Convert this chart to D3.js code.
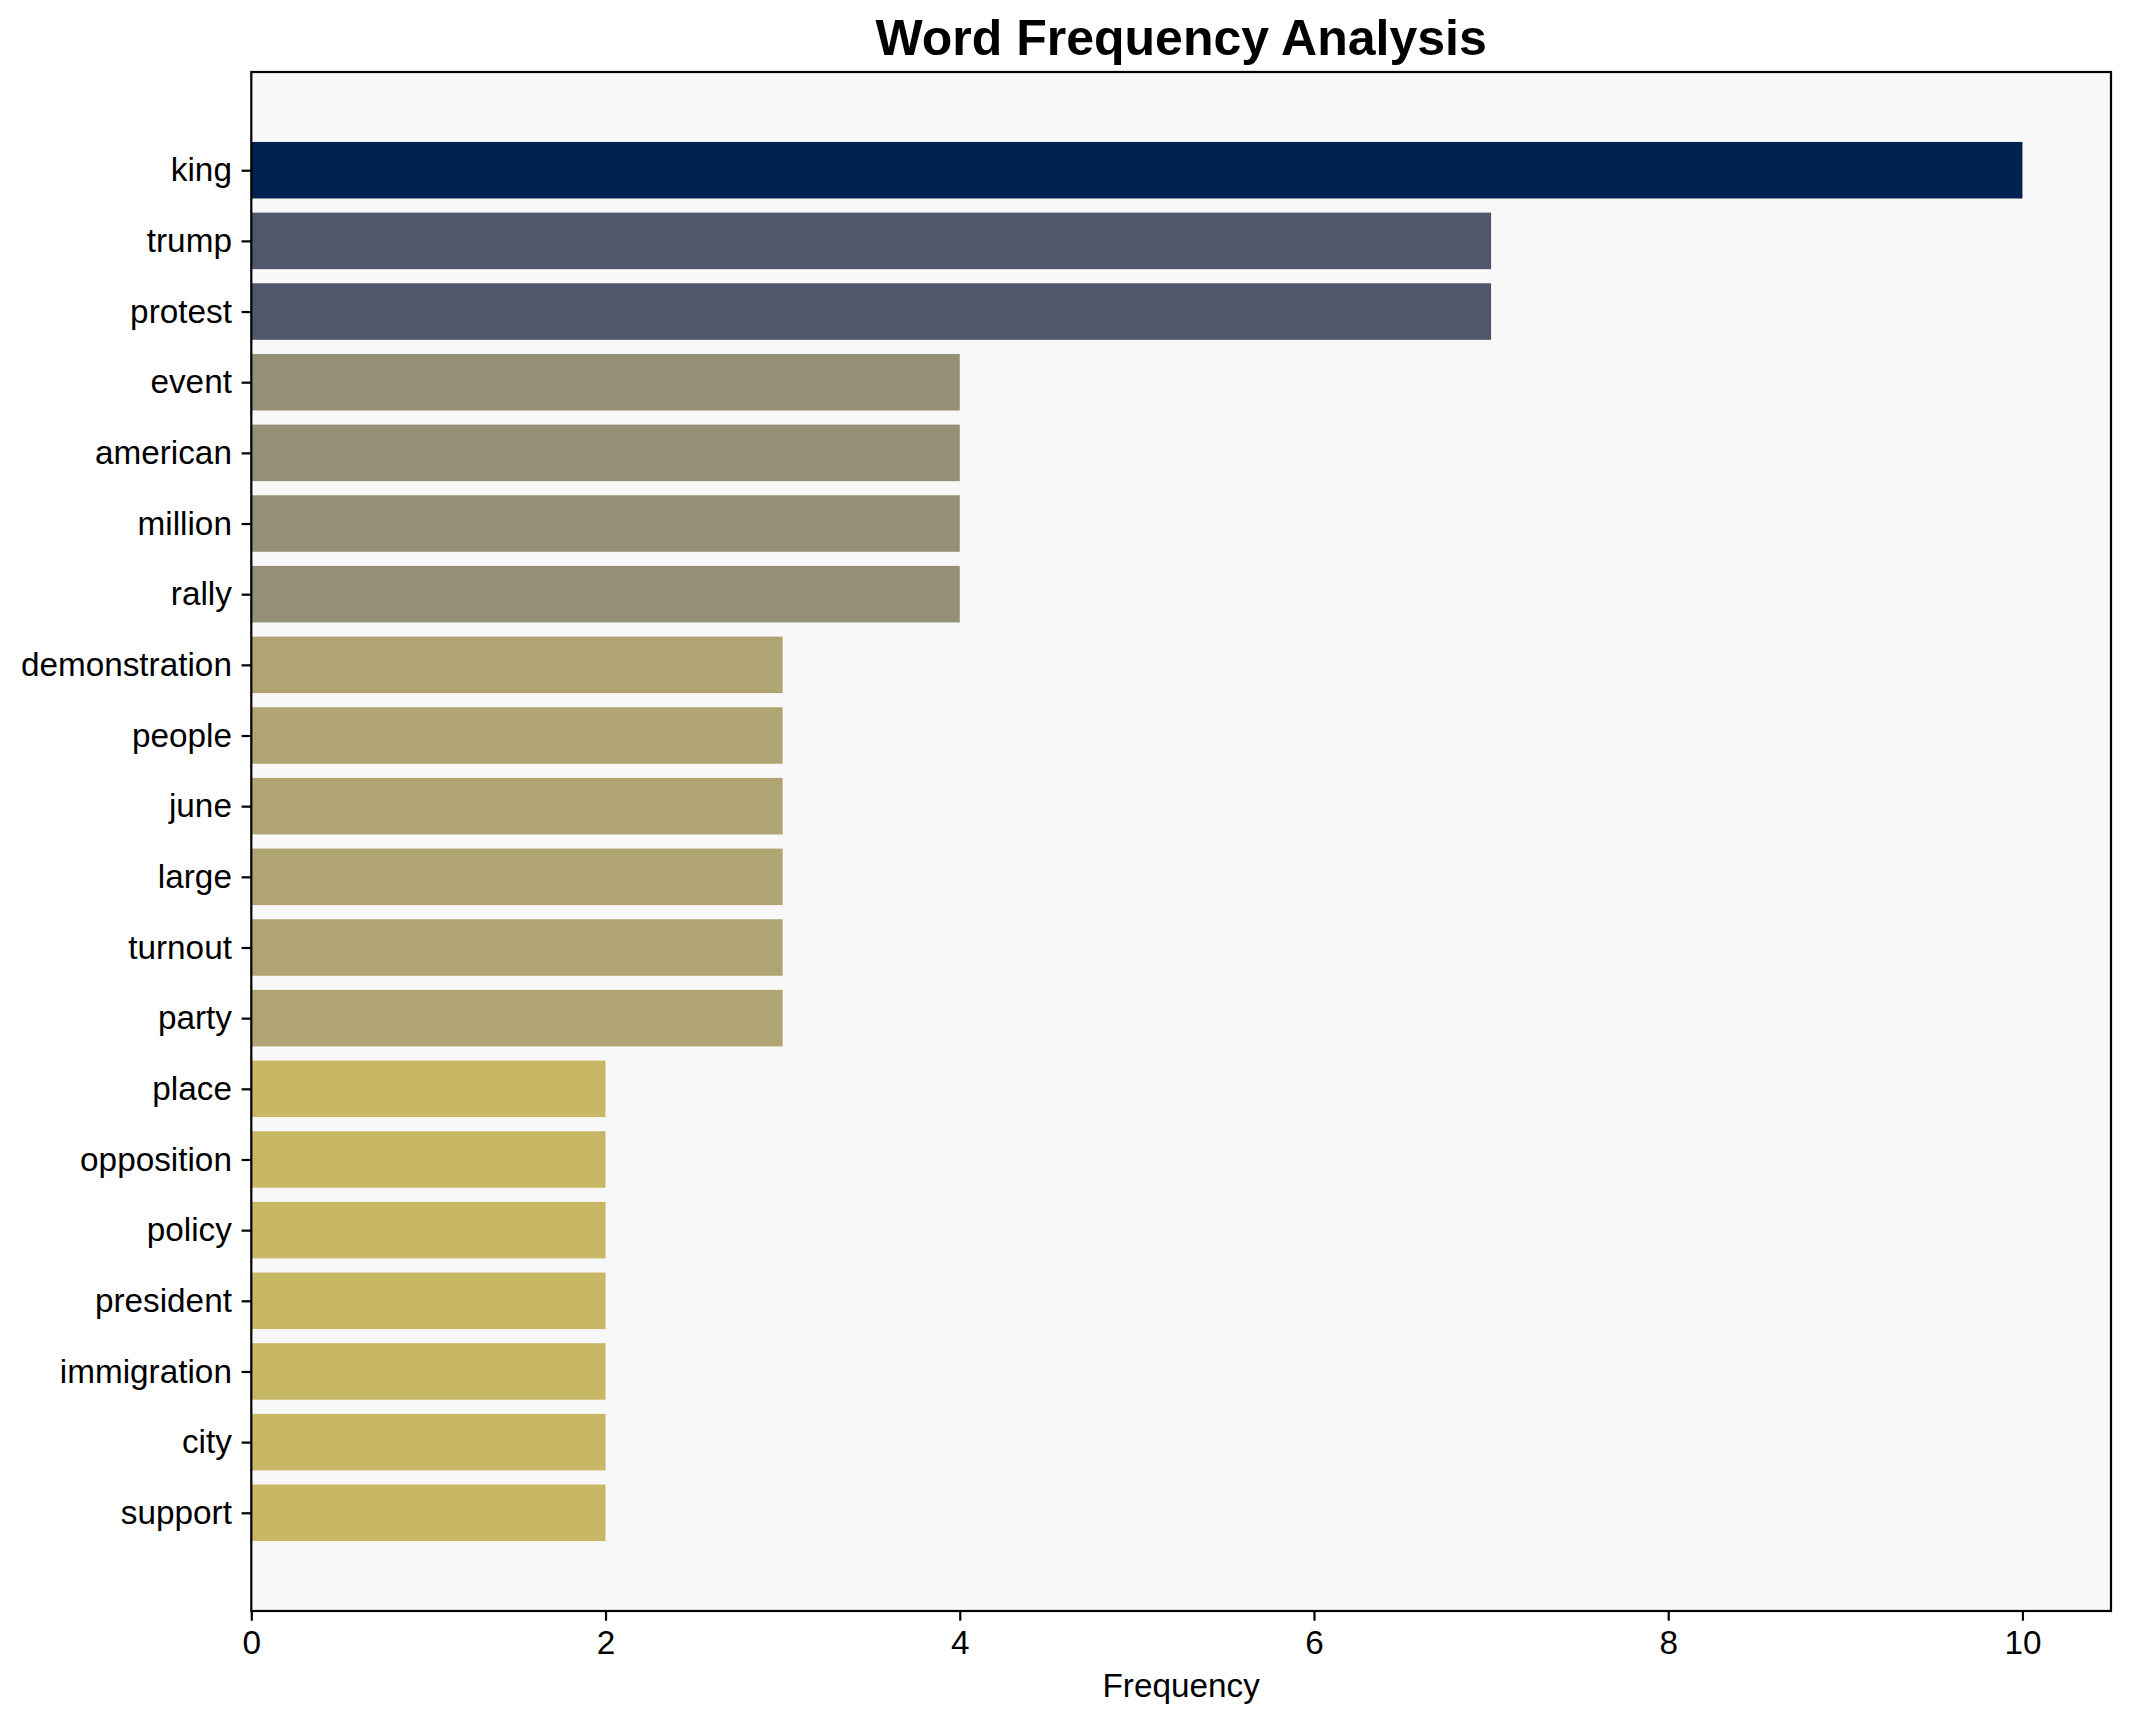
<!DOCTYPE html>
<html>
<head>
<meta charset="utf-8">
<script src="https://cdn.jsdelivr.net/npm/d3@7"></script>
<style>
  html, body { margin: 0; padding: 0; background: #ffffff; }
  svg { display: block; }
  text { font-family: "Liberation Sans", Arial, sans-serif; fill: #000; }
</style>
</head>
<body>
<svg id="chart" width="2130" height="1722"></svg>
<script>
const words = ["king","trump","protest","event","american","million","rally","demonstration","people","june","large","turnout","party","place","opposition","policy","president","immigration","city","support"];
const counts = [10,7,7,4,4,4,4,3,3,3,3,3,3,2,2,2,2,2,2,2];
const colorValues = [10,7,4,3,2];
const colorList = ["#002251","#4f586b","#958f76","#b0a572","#c8b866"];
const xTicks = [0,2,4,6,8,10];
const titleText = "Word Frequency Analysis";
const xLabelText = "Frequency";

const W = 2130, H = 1722;
const margin = {left: 251.3, right: W - 2111, top: 72, bottom: H - 1611};
const pw = W - margin.left - margin.right;
const ph = H - margin.top - margin.bottom;

const svg = d3.select("#chart");
svg.append("rect").attr("width", W).attr("height", H).attr("fill", "#ffffff");

const g = svg.append("g").attr("transform", `translate(${margin.left},${margin.top})`);

const x = d3.scaleLinear().domain([0, 10.5]).range([0, pw]);
// matplotlib-like y: bar centres at index i, limits [-1.39, 20.39] inverted
const n = words.length;
const lo = -0.4 - 0.05 * (n - 1 + 0.8), hi = (n - 1) + 0.4 + 0.05 * (n - 1 + 0.8);
const y = d3.scaleLinear().domain([lo, hi]).range([0, ph]);
const color = d3.scaleOrdinal().domain(colorValues).range(colorList);

g.append("rect").attr("width", pw).attr("height", ph).attr("fill", "#f8f8f8");

g.selectAll("rect.bar").data(words).enter().append("rect")
  .attr("class", "bar")
  .attr("x", x(0))
  .attr("y", (d, i) => y(i - 0.4))
  .attr("height", (d, i) => y(i + 0.4) - y(i - 0.4))
  .attr("width", (d, i) => x(counts[i]) - x(0))
  .attr("fill", (d, i) => color(counts[i]));

// frame
g.append("rect").attr("width", pw).attr("height", ph)
  .attr("fill", "none").attr("stroke", "#000").attr("stroke-width", 2.2);

const fs = 33.3, tickLen = 9.7, pad = 9.7;

// x axis
const xAxis = g.append("g").attr("transform", `translate(0,${ph})`)
  .call(d3.axisBottom(x).tickValues(xTicks).tickFormat(d3.format("d")).tickSize(tickLen).tickPadding(pad));
xAxis.select(".domain").remove();
xAxis.selectAll(".tick line").attr("stroke", "#000").attr("stroke-width", 2.2);
xAxis.selectAll(".tick text").attr("font-size", fs).attr("font-family", "Liberation Sans, Arial, sans-serif").attr("fill", "#000");

// y axis
const yAxis = g.append("g")
  .call(d3.axisLeft(y).tickValues(d3.range(n)).tickFormat(i => words[i]).tickSize(tickLen).tickPadding(pad));
yAxis.select(".domain").remove();
yAxis.selectAll(".tick line").attr("stroke", "#000").attr("stroke-width", 2.2);
yAxis.selectAll(".tick text").attr("font-size", fs).attr("font-family", "Liberation Sans, Arial, sans-serif").attr("fill", "#000");

// title
svg.append("text")
  .attr("x", margin.left + pw / 2).attr("y", margin.top - 17)
  .attr("text-anchor", "middle").attr("font-size", 50).attr("font-weight", "bold")
  .text(titleText);

// x label
svg.append("text")
  .attr("x", margin.left + pw / 2).attr("y", 1697)
  .attr("text-anchor", "middle").attr("font-size", fs)
  .text(xLabelText);
</script>
</body>
</html>
